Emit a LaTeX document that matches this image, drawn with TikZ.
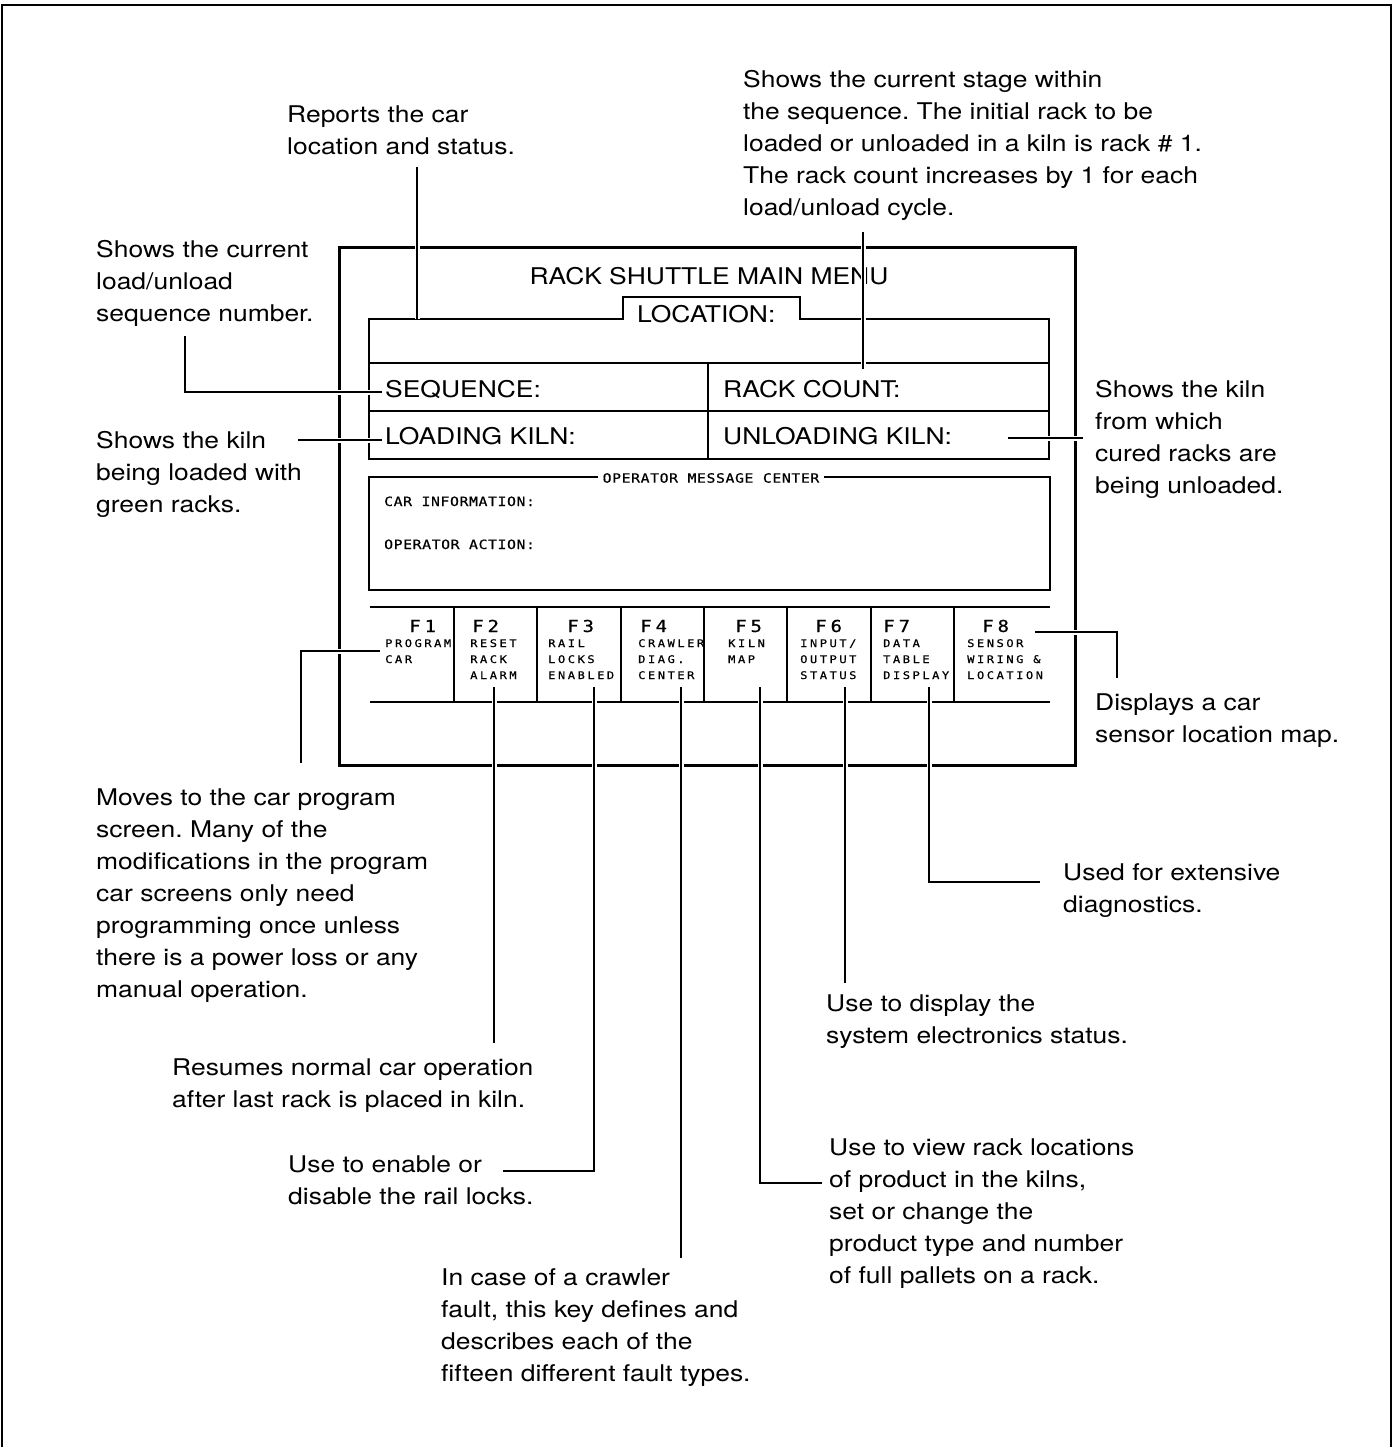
\documentclass[tikz,border=0pt]{standalone}
\usepackage{fontspec}
\setmainfont{TeX Gyre Heros}[FakeStretch=1.15]
\newfontfamily\scrfont{DejaVu Sans Mono}[FakeStretch=1.15,LetterSpace=5,FakeBold=0.6]
\newfontfamily\keyfont{DejaVu Sans Mono}[FakeStretch=1.15,LetterSpace=24,FakeBold=0.6]
\newcommand\txtlines[1]{\begin{tabular}[t]{@{}l@{}}#1\end{tabular}}
\frenchspacing
\begin{document}
\frenchspacing
\begin{tikzpicture}[x=1pt,y=-1pt,
  ann/.style={anchor=base west, inner sep=0pt, font=\fontsize{23}{32}\selectfont},
  scr/.style={anchor=base west, inner sep=0pt, font=\fontsize{23}{32}\selectfont},
  msg/.style={anchor=base west, inner sep=0pt, font=\scrfont\fontsize{12.8}{16}\selectfont},
  fkey/.style={anchor=base west, inner sep=0pt, font=\keyfont\fontsize{16.5}{20}\selectfont},
  kdesc/.style={anchor=base west, inner sep=0pt, font=\keyfont\fontsize{10.5}{16}\selectfont},
  leader/.style={line width=1.2pt, preaction={draw=white, line width=5pt}},
  thinline/.style={line width=1.5pt},
  thickline/.style={line width=3pt}]
\useasboundingbox (0,0) rectangle (1393,1447);
% outer frame (open at bottom)
\draw[line width=2.5pt] (2,1452) -- (2,5) -- (1391,5) -- (1391,1452);
% screen
\draw[thickline] (339,248) rectangle (1075,765);
\node[scr, anchor=base] (title) at (709,284) {RACK SHUTTLE MAIN MENU};
\draw[thinline] (369,319) -- (623,319) -- (623,297) -- (800,297) -- (800,319) -- (1049,319) -- (1049,459) -- (369,459) -- cycle;
\draw[thinline] (369,363) -- (1049,363);
\draw[thinline] (369,411) -- (1049,411);
\draw[thinline] (708,363) -- (708,459);
\node[scr] (loc) at (637,322) {LOCATION:};
\node[scr] (seq) at (385,397) {SEQUENCE:};
\node[scr] (rc) at (723,397) {RACK COUNT:};
\node[scr] (lk) at (385,444) {LOADING KILN:};
\node[scr] (ulk) at (723,444) {UNLOADING KILN:};
% message center
\draw[thinline] (369,477) rectangle (1050,590);
\node[msg, anchor=center, fill=white, inner xsep=5pt, inner ysep=2pt] (omc) at (711,478) {OPERATOR MESSAGE CENTER};
\node[msg] (ci) at (384,506) {CAR INFORMATION:};
\node[msg] (oa) at (384,549) {OPERATOR ACTION:};
% function keys
\draw[thinline] (370,607) -- (1050,607);
\draw[thinline] (370,702) -- (1050,702);
\foreach \xx in {454,537,621,704,787,871,954} \draw[thinline] (\xx,607) -- (\xx,702);
\node[fkey] (f1) at (409,632) {F1};
\node[fkey] (f2) at (472,632) {F2};
\node[fkey] (f3) at (567,632) {F3};
\node[fkey] (f4) at (640,632) {F4};
\node[fkey] (f5) at (735,632) {F5};
\node[fkey] (f6) at (815,632) {F6};
\node[fkey] (f7) at (883,632) {F7};
\node[fkey] (f8) at (982,632) {F8};
\node[kdesc] (d1) at (385,647) {\txtlines{PROGRAM\\CAR}};
\node[kdesc] (d2) at (470,647) {\txtlines{RESET\\RACK\\ALARM}};
\node[kdesc] (d3) at (548,647) {\txtlines{RAIL\\LOCKS\\ENABLED}};
\node[kdesc] (d4) at (638,647) {\txtlines{CRAWLER\\DIAG.\\CENTER}};
\node[kdesc] (d5) at (728,647) {\txtlines{KILN\\MAP}};
\node[kdesc] (d6) at (800,647) {\txtlines{INPUT/\\OUTPUT\\STATUS}};
\node[kdesc] (d7) at (883,647) {\txtlines{DATA\\TABLE\\DISPLAY}};
\node[kdesc] (d8) at (967,647) {\txtlines{SENSOR\\WIRING \&\\LOCATION}};
% annotations
\node[ann] (aRep) at (287,123) {\txtlines{Reports the car\\location and status.}};
\node[ann] (aStage) at (743,88) {\txtlines{Shows the current stage within\\the sequence. The initial rack to be\\loaded or unloaded in a kiln is rack \# 1.\\The rack count increases by 1 for each\\load/unload cycle.}};
\node[ann] (aSeq) at (96,258) {\txtlines{Shows the current\\load/unload\\sequence number.}};
\node[ann] (aLoad) at (96,448) {\txtlines{Shows the kiln\\being loaded with\\green racks.}};
\node[ann] (aUnload) at (1095,397) {\txtlines{Shows the kiln\\from which\\cured racks are\\being unloaded.}};
\node[ann] (aMap) at (1095,710) {\txtlines{Displays a car\\sensor location map.}};
\node[ann] (aF1) at (96,805) {\txtlines{Moves to the car program\\screen. Many of the\\modifications in the program\\car screens only need\\programming once unless\\there is a power loss or any\\manual operation.}};
\node[ann] (aF2) at (172,1075) {\txtlines{Resumes normal car operation\\after last rack is placed in kiln.}};
\node[ann] (aF3) at (288,1172) {\txtlines{Use to enable or\\disable the rail locks.}};
\node[ann] (aF4) at (441,1285) {\txtlines{In case of a crawler\\fault, this key defines and\\describes each of the\\fifteen different fault types.}};
\node[ann] (aF5) at (829,1155) {\txtlines{Use to view rack locations\\of product in the kilns,\\set or change the\\product type and number\\of full pallets on a rack.}};
\node[ann] (aF6) at (826,1011) {\txtlines{Use to display the\\system electronics status.}};
\node[ann] (aF7) at (1063,880) {\txtlines{Used for extensive\\diagnostics.}};
% leader coordinates
\coordinate (rA) at (417,167);   \coordinate (rB) at (417,319);
\coordinate (sA) at (863,232);   \coordinate (sB) at (863,369);
\coordinate (qA) at (185,336);   \coordinate (qB) at (382,392);
\coordinate (lA) at (298,440);   \coordinate (lB) at (382,440);
\coordinate (uA) at (1008,438);  \coordinate (uB) at (1083,438);
\coordinate (k1A) at (380,651);  \coordinate (k1B) at (301,763);
\coordinate (k2A) at (494,687);  \coordinate (k2B) at (494,1043);
\coordinate (k3A) at (594,687);  \coordinate (k3B) at (503,1171);
\coordinate (k4A) at (681,687);  \coordinate (k4B) at (681,1258);
\coordinate (k5A) at (760,687);  \coordinate (k5B) at (822,1183);
\coordinate (k6A) at (845,687);  \coordinate (k6B) at (845,983);
\coordinate (k7A) at (929,687);  \coordinate (k7B) at (1040,882);
\coordinate (k8A) at (1035,632); \coordinate (k8B) at (1117,678);
% leaders
\draw[leader] (rA) -- (rB);
\draw[leader] (sA) -- (sB);
\draw[leader] (qA) |- (qB);
\draw[leader] (lA) -- (lB);
\draw[leader] (uA) -- (uB);
\draw[leader] (k1A) -| (k1B);
\draw[leader] (k2A) -- (k2B);
\draw[leader] (k3A) |- (k3B);
\draw[leader] (k4A) -- (k4B);
\draw[leader] (k5A) |- (k5B);
\draw[leader] (k6A) -- (k6B);
\draw[leader] (k7A) |- (k7B);
\draw[leader] (k8A) -| (k8B);
\end{tikzpicture}
\end{document}
